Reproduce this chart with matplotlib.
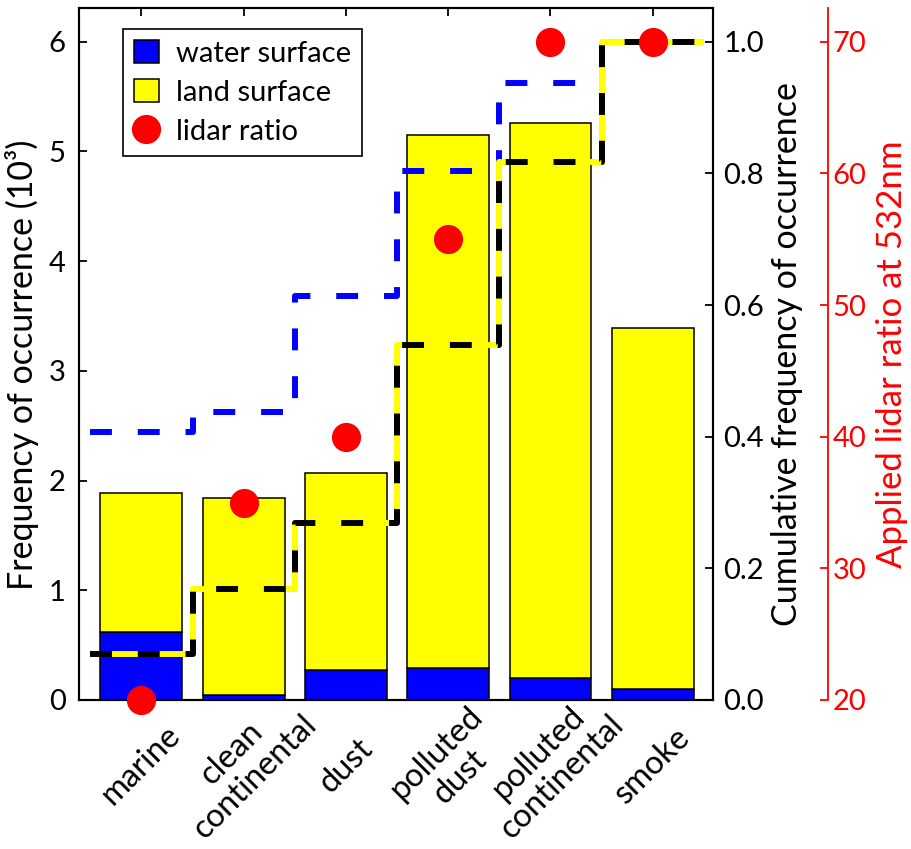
import numpy as np
import matplotlib
matplotlib.use("Agg")
import matplotlib.pyplot as plt
from matplotlib.patches import Patch
from matplotlib.lines import Line2D

# ---- data ----
categories = ["marine", "clean\ncontinental", "dust", "polluted\ndust",
              "polluted\ncontinental", "smoke"]
water_freq = [0.62, 0.045, 0.27, 0.29, 0.20, 0.10]      # 10^3
land_freq = [1.27, 1.80, 1.80, 4.86, 5.06, 3.29]        # 10^3
cum_water = [0.407, 0.437, 0.614, 0.803, 0.937, 1.0]
cum_land = [0.070, 0.169, 0.269, 0.539, 0.817, 1.0]
lidar_ratio = [20, 35, 40, 55, 70, 70]
left_ticks = [0, 1, 2, 3, 4, 5, 6]
cum_ticks = [0.0, 0.2, 0.4, 0.6, 0.8, 1.0]
lidar_ticks = [20, 30, 40, 50, 60, 70]

plt.rcParams['font.family'] = ['Lato', 'DejaVu Sans']
FS_TICK = 21
FS_XT = 23.5
FS_LAB = 24.5
FS_RED = 25
FS_LEG = 21

W, H = 912, 849
fig = plt.figure(figsize=(W / 100, H / 100), dpi=100)
ax = fig.add_axes([79 / W, 149 / H, 634 / W, 692 / H])

x = np.arange(len(categories))
ax.bar(x, water_freq, 0.8, color="#0000ff", edgecolor="black", linewidth=1.1, zorder=2)
ax.bar(x, land_freq, 0.8, bottom=water_freq, color="#ffff00", edgecolor="black",
       linewidth=1.1, zorder=2)
ax.set_xlim(-0.61, 5.59)
ax.set_ylim(0, 6.307)
ax.set_yticks(left_ticks)
ax.set_xticks(x)
ax.set_xticklabels(categories, rotation=45, ha="center", va="center",
                   rotation_mode="anchor", multialignment="center",
                   linespacing=1.15)
ax.tick_params(axis="x", direction="in", length=6, width=1.3, pad=47,
               labelsize=FS_XT, top=True)
ax.tick_params(axis="y", direction="in", length=6, width=1.3, pad=9.5,
               labelsize=FS_TICK, right=False)
ax.set_ylabel("Frequency of occurrence (10³)", fontsize=FS_LAB)
ax.yaxis.set_label_coords(-0.063, 0.485)
for s in ax.spines.values():
    s.set_linewidth(1.5)

# cumulative axis
ax2 = ax.twinx()
ax2.set_ylim(0, 1.0512)
ax2.set_yticks(cum_ticks)
ax2.set_yticklabels([f"{t:.1f}" for t in cum_ticks])
ax2.tick_params(axis="y", direction="in", length=6, width=1.3, pad=7.5,
                labelsize=FS_TICK)
ax2.set_ylabel("Cumulative frequency of occurrence", fontsize=FS_LAB, labelpad=5)
for s in ax2.spines.values():
    s.set_linewidth(1.5)

edges = np.arange(len(categories) + 1) - 0.5
lw = 4.3
dash = (3.67, 4.33)
ax2.plot(edges, list(cum_water) + [cum_water[-1]], drawstyle="steps-post",
         color="#0000ff", linewidth=lw, dashes=dash, dash_capstyle="butt",
         dash_joinstyle="round", zorder=3)
ax2.plot(edges, list(cum_land) + [cum_land[-1]], drawstyle="steps-post",
         color="#ffff00", linewidth=lw, solid_joinstyle="round",
         solid_capstyle="butt", zorder=4)
ax2.plot(edges, list(cum_land) + [cum_land[-1]], drawstyle="steps-post",
         color="black", linewidth=lw, dashes=dash, dash_capstyle="butt",
         dash_joinstyle="round", zorder=5)

# lidar ratio axis
ax3 = ax.twinx()
ax3.spines["right"].set_position(("axes", 1.181))
ax3.spines["right"].set_color("red")
ax3.spines["right"].set_linewidth(1.3)
for k in ("left", "top", "bottom"):
    ax3.spines[k].set_visible(False)
ax3.set_ylim(20, 72.56)
ax3.set_yticks(lidar_ticks)
ax3.tick_params(axis="y", direction="in", length=6, width=1.3, pad=3.5,
                labelsize=FS_TICK, colors="red")
ax3.set_ylabel("Applied lidar ratio at 532nm", fontsize=FS_RED, color="red",
               labelpad=6.5)
ax3.plot(x, lidar_ratio, "o", color="red", markersize=21, markeredgewidth=0,
         clip_on=False, zorder=6)

handles = [Patch(facecolor="#0000ff", edgecolor="black", linewidth=1.1),
           Patch(facecolor="#ffff00", edgecolor="black", linewidth=1.1),
           Line2D([], [], marker="o", linestyle="none", color="red",
                  markersize=21, markeredgewidth=0)]
leg = ax3.legend(handles, ["water surface", "land surface", "lidar ratio"],
                 loc="upper left", bbox_to_anchor=(0.069, 0.97), borderaxespad=0,
                 fontsize=FS_LEG, frameon=True, fancybox=False, framealpha=1,
                 edgecolor="black", handlelength=0.85, handleheight=0.85,
                 handletextpad=0.6, labelspacing=0.42, borderpad=0.38)
leg.get_frame().set_linewidth(1.2)

fig.savefig("out.png", dpi=100)
